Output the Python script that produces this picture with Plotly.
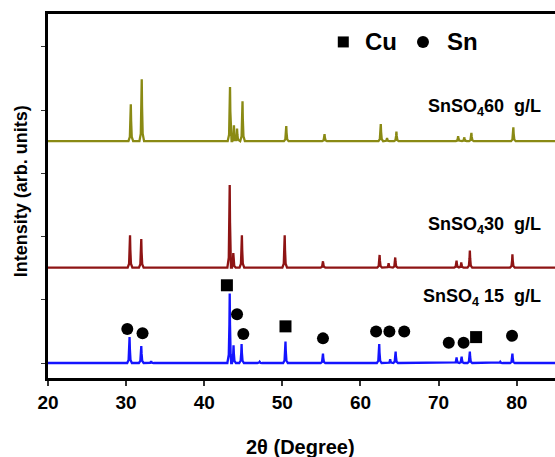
import plotly.graph_objects as go

# ---- data ----
x_range = [20, 84.9]
y_range = [-0.237, 5.522]
x_ticks = [20, 30, 40, 50, 60, 70, 80]
y_ticks = [0, 1, 2, 3, 4, 5]

# offsets of each pattern (stacked baselines)
base_15 = 0.0
base_30 = 1.51
base_60 = 3.51

# peak positions (2theta) and heights above baseline
pk15_pos = [30.44, 31.94, 33.2, 43.26, 43.75, 44.78, 47.1, 50.4, 55.2, 62.4, 63.8, 64.5, 72.3, 72.95, 74.0, 77.9, 79.45]
pk15_h   = [0.41, 0.27, 0.03, 1.10, 0.28, 0.30, 0.02, 0.34, 0.15, 0.30, 0.06, 0.18, 0.09, 0.10, 0.18, 0.02, 0.15]

pk30_pos = [30.5, 31.94, 43.26, 43.72, 44.82, 50.3, 55.2, 62.45, 63.6, 64.45, 72.3, 72.9, 74.0, 79.45]
pk30_h   = [0.51, 0.45, 1.305, 0.23, 0.51, 0.51, 0.10, 0.20, 0.07, 0.16, 0.11, 0.08, 0.27, 0.21]

pk60_pos = [30.6, 32.0, 43.3, 43.8, 44.2, 44.9, 50.5, 55.4, 62.6, 63.4, 64.6, 72.5, 73.3, 74.2, 79.57]
pk60_h   = [0.585, 0.98, 0.855, 0.25, 0.2, 0.63, 0.24, 0.11, 0.27, 0.05, 0.15, 0.08, 0.06, 0.13, 0.22]

# phase markers on the 15 g/L pattern
cu_x = [42.9, 50.4, 74.8]
cu_y = [1.23, 0.58, 0.41]
sn_x = [30.15, 32.1, 44.2, 45.0, 55.2, 62.0, 63.7, 65.6, 71.3, 73.2, 79.4]
sn_y = [0.54, 0.47, 0.77, 0.46, 0.39, 0.50, 0.50, 0.50, 0.32, 0.32, 0.43]

labels = ["SnSO<sub>4</sub>60\u00a0 g/L", "SnSO<sub>4</sub>30\u00a0 g/L", "SnSO<sub>4</sub> 15\u00a0 g/L"]
label_y = [4.05, 2.18, 1.03]

colors = {"60": "#8a8a14", "30": "#8e1414", "15": "#1414ff"}

# peak drawing template (shape only)
T_OFF = [-0.3, -0.12, -0.04, 0.0, 0.04, 0.12, 0.3]
T_FR = [0.0, 0.12, 0.55, 1.0, 0.55, 0.12, 0.0]


def pattern(pos, h, base):
    pts = [(x_range[0], base), (x_range[1], base)]
    for p, hh in zip(pos, h):
        for o, f in zip(T_OFF, T_FR):
            pts.append((p + o, base + hh * f))
    pts.sort(key=lambda t: t[0])
    return [t[0] for t in pts], [t[1] for t in pts]


fig = go.Figure()
for key, pos, h, base in [("60", pk60_pos, pk60_h, base_60),
                          ("30", pk30_pos, pk30_h, base_30),
                          ("15", pk15_pos, pk15_h, base_15)]:
    xs, ys = pattern(pos, h, base)
    fig.add_trace(go.Scatter(x=xs, y=ys, mode="lines",
                             line=dict(color=colors[key], width=2.3),
                             showlegend=False, hoverinfo="skip"))

fig.add_trace(go.Scatter(x=cu_x, y=cu_y, mode="markers",
                         marker=dict(symbol="square", size=12, color="black"),
                         showlegend=False, cliponaxis=False))
fig.add_trace(go.Scatter(x=sn_x, y=sn_y, mode="markers",
                         marker=dict(symbol="circle", size=12, color="black"),
                         showlegend=False, cliponaxis=False))

# key at top
fig.add_trace(go.Scatter(x=[57.8], y=[5.08], mode="markers",
                         marker=dict(symbol="square", size=11, color="black"),
                         showlegend=False, cliponaxis=False))
fig.add_trace(go.Scatter(x=[68.0], y=[5.08], mode="markers",
                         marker=dict(symbol="circle", size=12, color="black"),
                         showlegend=False, cliponaxis=False))

FONT = "Liberation Sans, Arial, sans-serif"
ann = [
    dict(x=62.6, y=5.08, text="Cu", font=dict(size=24, weight="bold")),
    dict(x=73.0, y=5.08, text="Sn", font=dict(size=24, weight="bold")),
]
for t, yy in zip(labels, label_y):
    ann.append(dict(x=83.3, y=yy, text=t, xanchor="right",
                    font=dict(size=18, weight="bold")))
for a in ann:
    a.setdefault("xanchor", "center")
    a.update(xref="x", yref="y", yanchor="middle", showarrow=False)
    a["font"].update(family=FONT, color="black")

ann.append(dict(xref="paper", yref="paper", x=-0.054, y=0.512, text="Intensity (arb. units)",
                textangle=-90, showarrow=False, xanchor="center", yanchor="middle",
                font=dict(family=FONT, size=18, weight="bold", color="black")))
ann.append(dict(xref="paper", yref="paper", x=0.499, y=-0.19, text="2\u03b8 (Degree)",
                showarrow=False, xanchor="center", yanchor="middle",
                font=dict(family=FONT, size=20, weight="bold", color="black")))

fig.update_layout(
    width=555, height=457,
    margin=dict(l=48, r=0, t=14, b=79),
    paper_bgcolor="white", plot_bgcolor="white",
    annotations=ann,
    xaxis=dict(range=x_range, tickvals=x_ticks, ticks="outside", ticklen=5,
               tickwidth=1.5, tickcolor="#333", showline=True, linewidth=3,
               linecolor="black", mirror=True, showgrid=False, zeroline=False,
               tickfont=dict(family=FONT, size=19, weight="bold", color="black")),
    yaxis=dict(range=y_range, tickvals=y_ticks, ticks="outside", ticklen=4,
               tickwidth=1, tickcolor="#333", showticklabels=False,
               showline=True, linewidth=3, linecolor="black", mirror=False,
               showgrid=False, zeroline=False),
)

fig.write_html("out.html", config={"displayModeBar": False},
               post_script="document.body.style.margin='0';document.body.style.overflow='hidden';")
